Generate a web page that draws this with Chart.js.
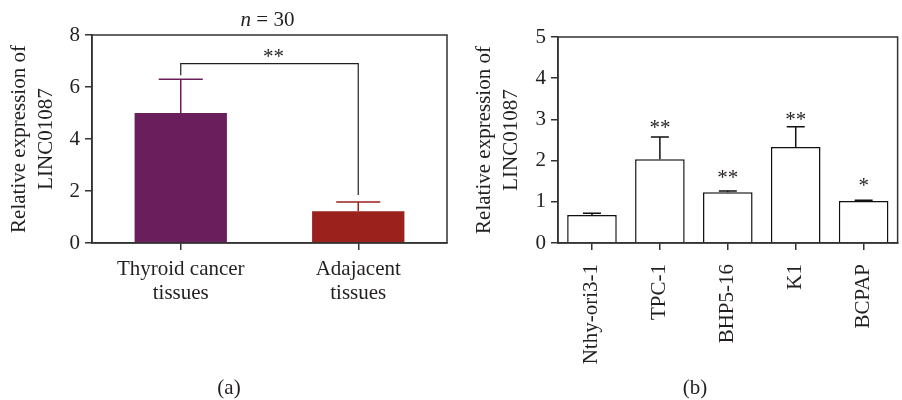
<!DOCTYPE html>
<html>
<head>
<meta charset="utf-8">
<script src="https://cdn.jsdelivr.net/npm/chart.js@4"></script>
<style>
  body { margin: 0; background: #fff; }
  #wrap { position: relative; width: 902px; height: 400px; }
  canvas { position: absolute; top: 0; }
</style>
</head>
<body>
<div id="wrap">
  <canvas id="chartA" width="450" height="400" style="left:0"></canvas>
  <canvas id="chartB" width="452" height="400" style="left:450px"></canvas>
</div>
<script>
// panel (a): tissues
const tissueLabels = [['Thyroid cancer', 'tissues'], ['Adajacent', 'tissues']];
const tissueMeans = [5.0, 1.22];
const tissueSD = [1.3, 0.36];
const tissueMax = 8;
const tissueStep = 2;
const bracketLevel = 6.9;
const bracketStarLevel = 7.3;

// panel (b): cell lines
const cellLines = ['Nthy-ori3-1', 'TPC-1', 'BHP5-16', 'K1', 'BCPAP'];
const cellMeans = [0.68, 2.03, 1.23, 2.33, 1.02];
const cellSD = [0.04, 0.54, 0.03, 0.49, 0.02];
const cellStars = ['', '**', '**', '**', '*'];
const cellStarLevels = [null, 2.88, 1.67, 3.07, 1.47];
const cellMax = 5;
const cellStep = 1;

const FONT = 'Liberation Serif';
const FS = 21;
const INK = '#231f20';
const AXIS = '#333';
Chart.defaults.font.family = FONT;
Chart.defaults.color = INK;

function drawErrorBars(chart, means, sds, colors, capHalf) {
  const ctx = chart.ctx, y = chart.scales.y;
  const bars = chart.getDatasetMeta(0).data;
  ctx.save();
  ctx.lineWidth = 1.5;
  means.forEach((m, i) => {
    const cx = bars[i].x;
    const top = y.getPixelForValue(m + sds[i]);
    const base = y.getPixelForValue(m);
    ctx.strokeStyle = colors[i];
    ctx.beginPath();
    ctx.moveTo(cx, base);
    ctx.lineTo(cx, top);
    ctx.moveTo(cx - capHalf, top);
    ctx.lineTo(cx + capHalf, top);
    ctx.stroke();
  });
  ctx.restore();
}

function drawBox(chart) {
  const a = chart.chartArea, ctx = chart.ctx;
  ctx.save();
  ctx.strokeStyle = AXIS;
  ctx.lineWidth = 1.5;
  ctx.strokeRect(a.left, a.top, a.right - a.left, a.bottom - a.top);
  ctx.restore();
}

function drawCaption(chart, text, x) {
  const ctx = chart.ctx;
  ctx.save();
  ctx.font = FS + 'px "' + FONT + '"';
  ctx.fillStyle = INK;
  ctx.textAlign = 'center';
  ctx.textBaseline = 'middle';
  ctx.fillText(text, x, 388);
  ctx.restore();
}

function axisOpts(max, step, yWidth, xHeight, rotate) {
  return {
    x: {
      grid: { offset: false, drawOnChartArea: false, tickLength: 7, color: AXIS, lineWidth: 1.5 },
      border: { color: AXIS, width: 1.5 },
      ticks: {
        font: { size: FS, lineHeight: 1.15 },
        padding: rotate ? 14 : 7,
        color: INK,
        maxRotation: rotate ? 90 : 0,
        minRotation: rotate ? 90 : 0,
        autoSkip: false
      },
      afterFit: s => { s.height = xHeight; }
    },
    y: {
      min: 0,
      max: max,
      ticks: { stepSize: step, font: { size: FS }, padding: 5, color: INK },
      grid: { drawOnChartArea: false, tickLength: 7, color: AXIS, lineWidth: 1.5 },
      border: { color: AXIS, width: 1.5 },
      title: {
        display: true,
        text: ['Relative expression of', 'LINC01087'],
        font: { size: FS, lineHeight: 1.3 },
        color: INK,
        padding: { top: 6 }
      },
      afterFit: s => { s.width = yWidth; }
    }
  };
}

const tissueDeco = {
  id: 'tissueDeco',
  afterDatasetsDraw(chart) {
    drawBox(chart);
    drawErrorBars(chart, tissueMeans, tissueSD, ['#6a1e5c', '#9b211c'], 22);
    const ctx = chart.ctx, y = chart.scales.y;
    const bars = chart.getDatasetMeta(0).data;
    const yb = y.getPixelForValue(bracketLevel);
    const l = bars[0].x, r = bars[1].x;
    ctx.save();
    ctx.strokeStyle = INK;
    ctx.lineWidth = 1.2;
    ctx.beginPath();
    ctx.moveTo(l, y.getPixelForValue(tissueMeans[0] + tissueSD[0]) - 4);
    ctx.lineTo(l, yb);
    ctx.lineTo(r, yb);
    ctx.lineTo(r, y.getPixelForValue(tissueMeans[1] + tissueSD[1]) - 7);
    ctx.stroke();
    ctx.font = FS + 'px "' + FONT + '"';
    ctx.fillStyle = INK;
    ctx.textAlign = 'center';
    ctx.textBaseline = 'middle';
    ctx.fillText('**', (l + r) / 2 + 4, y.getPixelForValue(bracketStarLevel) + 4);
    ctx.restore();
  },
  afterDraw(chart) {
    const ctx = chart.ctx, a = chart.chartArea;
    ctx.save();
    ctx.fillStyle = INK;
    ctx.textBaseline = 'middle';
    ctx.font = 'italic ' + FS + 'px "' + FONT + '"';
    const wn = ctx.measureText('n').width;
    ctx.font = FS + 'px "' + FONT + '"';
    const wr = ctx.measureText(' = 30').width;
    const x0 = (a.left + a.right) / 2 - (wn + wr) / 2 - 2;
    ctx.textAlign = 'left';
    ctx.font = 'italic ' + FS + 'px "' + FONT + '"';
    ctx.fillText('n', x0, 20);
    ctx.font = FS + 'px "' + FONT + '"';
    ctx.fillText(' = 30', x0 + wn, 20);
    ctx.restore();
    drawCaption(chart, '(a)', 229);
  }
};

const cellDeco = {
  id: 'cellDeco',
  afterDatasetsDraw(chart) {
    drawBox(chart);
    drawErrorBars(chart, cellMeans, cellSD, cellMeans.map(() => '#111'), 9);
    const ctx = chart.ctx, y = chart.scales.y;
    const bars = chart.getDatasetMeta(0).data;
    ctx.save();
    ctx.font = FS + 'px "' + FONT + '"';
    ctx.fillStyle = INK;
    ctx.textAlign = 'center';
    ctx.textBaseline = 'middle';
    cellStars.forEach((s, i) => {
      if (s) ctx.fillText(s, bars[i].x, y.getPixelForValue(cellStarLevels[i]) + 4);
    });
    ctx.restore();
  },
  afterDraw(chart) {
    drawCaption(chart, '(b)', 245);
  }
};

new Chart(document.getElementById('chartA'), {
  type: 'bar',
  data: {
    labels: tissueLabels,
    datasets: [{
      data: tissueMeans,
      backgroundColor: ['#6a1e5c', '#9b211c'],
      borderWidth: 0,
      barPercentage: 0.52,
      categoryPercentage: 1
    }]
  },
  options: {
    responsive: false,
    animation: false,
    devicePixelRatio: 1,
    layout: { padding: { left: 0, right: 3, top: 35, bottom: 0 } },
    plugins: { legend: { display: false }, tooltip: { enabled: false } },
    scales: axisOpts(tissueMax, tissueStep, 92, 157, false)
  },
  plugins: [tissueDeco]
});

const optsB = axisOpts(cellMax, cellStep, 108, 157, true);
optsB.y.title.padding = { top: 21 };
new Chart(document.getElementById('chartB'), {
  type: 'bar',
  data: {
    labels: cellLines,
    datasets: [{
      data: cellMeans,
      backgroundColor: '#fff',
      borderColor: '#111',
      borderWidth: 1.5,
      barPercentage: 0.73,
      categoryPercentage: 1
    }]
  },
  options: {
    responsive: false,
    animation: false,
    devicePixelRatio: 1,
    layout: { padding: { left: 0, right: 2, top: 37, bottom: 0 } },
    plugins: { legend: { display: false }, tooltip: { enabled: false } },
    scales: optsB
  },
  plugins: [cellDeco]
});
</script>
</body>
</html>
